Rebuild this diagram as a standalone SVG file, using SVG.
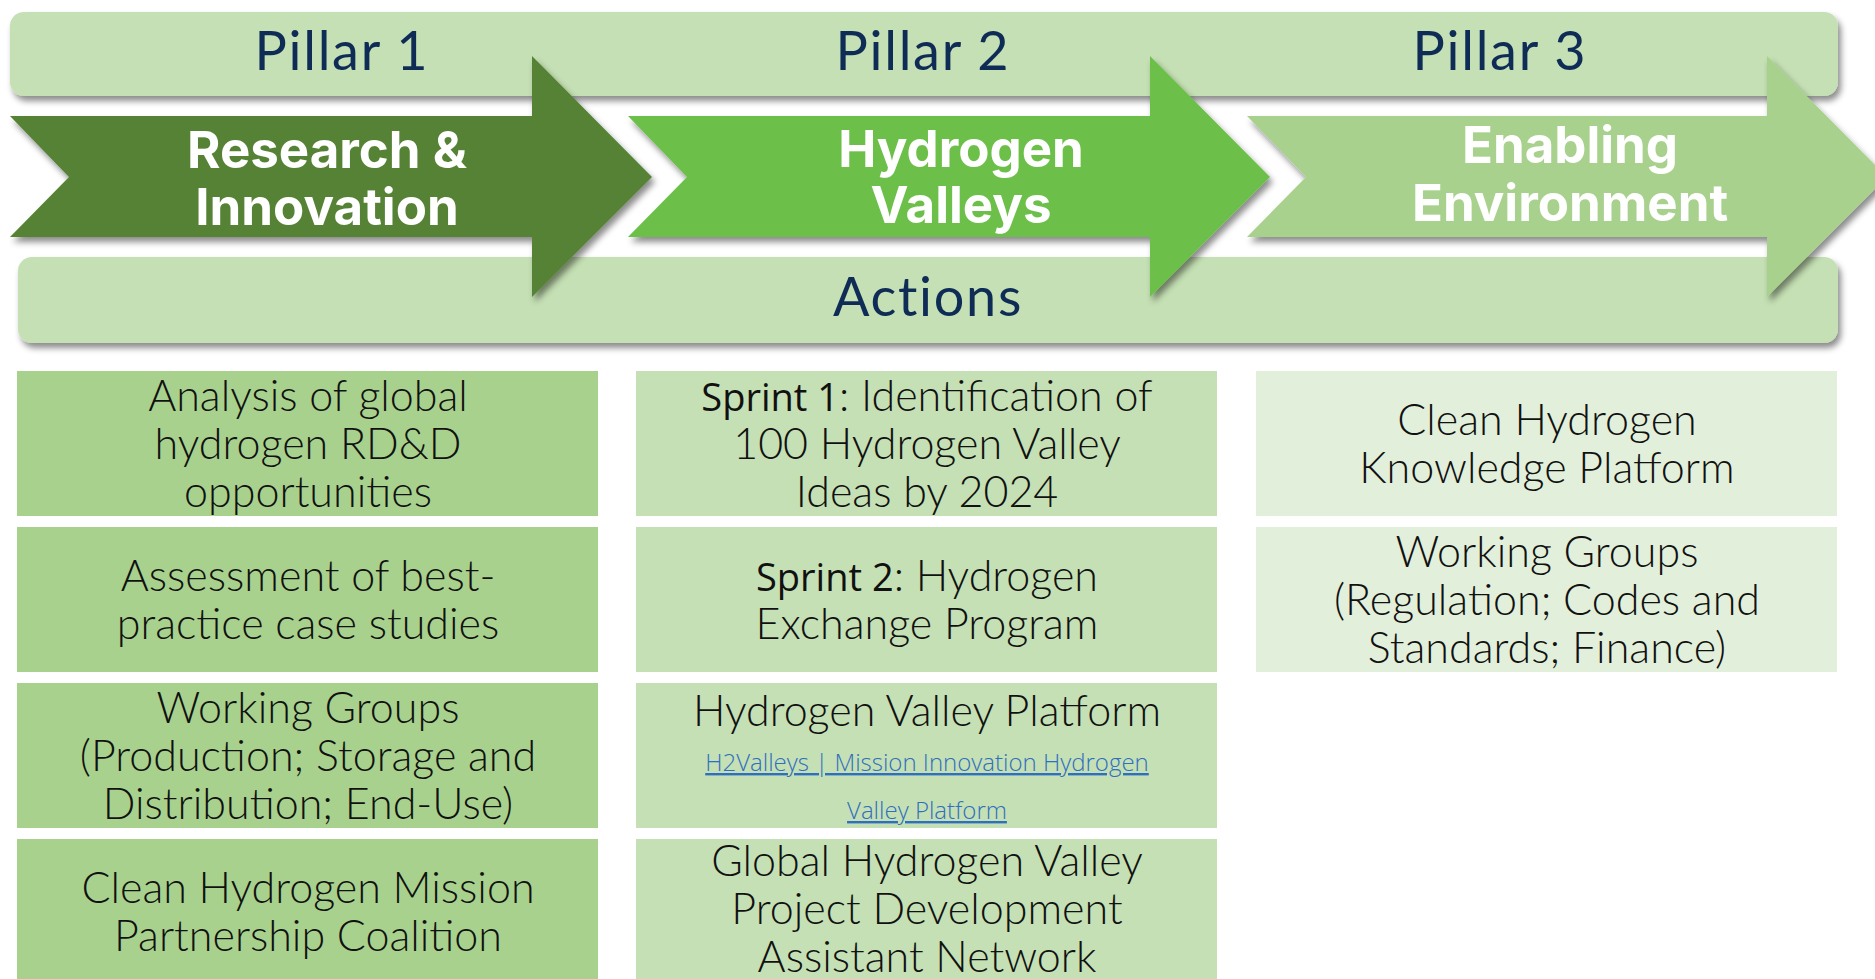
<svg xmlns="http://www.w3.org/2000/svg" width="1875" height="979" viewBox="0 0 1875 979">
<defs>
<filter id="sh" x="-5%" y="-20%" width="115%" height="150%">
<feDropShadow dx="3" dy="5" stdDeviation="3" flood-color="#000" flood-opacity="0.45"/>
</filter>
<style>
.band{fill:#C5E0B4;filter:url(#sh)}
.hd{font-family:"Lato","Liberation Sans",sans-serif;font-size:54px;letter-spacing:1.7px;fill:#0E2C55;text-anchor:middle}
.ar{font-family:"Inter","Liberation Sans",sans-serif;font-weight:700;font-size:51px;fill:#fff;text-anchor:middle}
.c1{fill:#A9D18E}.c2{fill:#C5E0B4}.c3{fill:#E2EFDA}
.ct{font-family:"Lato","Liberation Sans",sans-serif;font-weight:300;font-size:43px;fill:#111;text-anchor:middle}
.sp{font-family:"Open Sans","Liberation Sans",sans-serif;font-weight:400;font-size:38px}
.lk{font-family:"Open Sans","Liberation Sans",sans-serif;font-weight:300;font-size:24px;fill:#2F6FC0;text-anchor:middle;text-decoration:underline}
</style>
</defs>
<rect width="1875" height="979" fill="#fff"/>
<g id="pillar-band">
<rect class="band" x="10" y="12" width="1828" height="84" rx="14"/>
<text class="hd" x="342" y="70">Pillar 1</text>
<text class="hd" x="923" y="70">Pillar 2</text>
<text class="hd" x="1500" y="70">Pillar 3</text>
</g>
<g id="actions-band">
<rect class="band" x="18" y="257" width="1820" height="86" rx="14"/>
<text class="hd" x="928" y="316">Actions</text>
</g>
<g id="arrow-1">
<polygon filter="url(#sh)" fill="#548235" points="10,116 532,116 532,56 652,177 532,297 532,237 10,237 69,177"/>
<text class="ar" x="327" y="168">Research &amp;</text>
<text class="ar" x="327" y="225">Innovation</text>
</g>
<g id="arrow-2">
<polygon filter="url(#sh)" fill="#6CC04A" points="628,116 1150,116 1150,56 1270,177 1150,297 1150,237 628,237 687,177"/>
<text class="ar" x="961" y="167">Hydrogen</text>
<text class="ar" x="961" y="223">Valleys</text>
</g>
<g id="arrow-3">
<polygon filter="url(#sh)" fill="#A9D18E" points="1247,116 1767,116 1767,56 1887,177 1767,297 1767,237 1247,237 1306,177"/>
<text class="ar" x="1570" y="163">Enabling</text>
<text class="ar" x="1570" y="221">Environment</text>
</g>
<g id="connectors"/>
<g id="r1c1"><rect class="c1" x="17" y="371" width="581" height="145"/>
<text class="ct" x="308" y="411">Analysis of global</text><text class="ct" x="308" y="459">hydrogen RD&amp;D</text><text class="ct" x="308" y="507">opportunities</text></g>
<g id="r2c1"><rect class="c1" x="17" y="527" width="581" height="145"/>
<text class="ct" x="308" y="591">Assessment of best-</text><text class="ct" x="308" y="639">practice case studies</text></g>
<g id="r3c1"><rect class="c1" x="17" y="683" width="581" height="145"/>
<text class="ct" x="308" y="723">Working Groups</text><text class="ct" x="308" y="771">(Production; Storage and</text><text class="ct" x="308" y="819">Distribution; End-Use)</text></g>
<g id="r4c1"><rect class="c1" x="17" y="839" width="581" height="145"/>
<text class="ct" x="308" y="903">Clean Hydrogen Mission</text><text class="ct" x="308" y="951">Partnership Coalition</text></g>
<g id="r1c2"><rect class="c2" x="636" y="371" width="581" height="145"/>
<text class="ct" x="927" y="411"><tspan class="sp">Sprint 1</tspan>: Identification of</text><text class="ct" x="927" y="459">100 Hydrogen Valley</text><text class="ct" x="927" y="507">Ideas by 2024</text></g>
<g id="r2c2"><rect class="c2" x="636" y="527" width="581" height="145"/>
<text class="ct" x="927" y="591"><tspan class="sp">Sprint 2</tspan>: Hydrogen</text><text class="ct" x="927" y="639">Exchange Program</text></g>
<g id="r3c2"><rect class="c2" x="636" y="683" width="581" height="145"/>
<text class="ct" x="927" y="726">Hydrogen Valley Platform</text><text class="lk" x="927" y="771">H2Valleys | Mission Innovation Hydrogen</text><text class="lk" x="927" y="819">Valley Platform</text></g>
<g id="r4c2"><rect class="c2" x="636" y="839" width="581" height="145"/>
<text class="ct" x="927" y="876">Global Hydrogen Valley</text><text class="ct" x="927" y="924">Project Development</text><text class="ct" x="927" y="972">Assistant Network</text></g>
<g id="r1c3"><rect class="c3" x="1256" y="371" width="581" height="145"/>
<text class="ct" x="1547" y="435">Clean Hydrogen</text><text class="ct" x="1547" y="483">Knowledge Platform</text></g>
<g id="r2c3"><rect class="c3" x="1256" y="527" width="581" height="145"/>
<text class="ct" x="1547" y="567">Working Groups</text><text class="ct" x="1547" y="615">(Regulation; Codes and</text><text class="ct" x="1547" y="663">Standards; Finance)</text></g>
</svg>
